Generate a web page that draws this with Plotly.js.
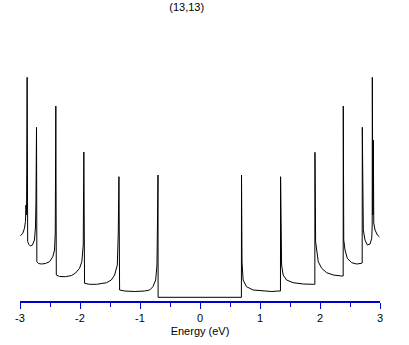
<!DOCTYPE html>
<html>
<head>
<meta charset="utf-8">
<script src="https://cdn.plot.ly/plotly-3.0.1.min.js"></script>
<style>html,body{margin:0;padding:0;background:#fff;}#chart{width:409px;height:345px;}</style>
</head>
<body>
<div id="chart"></div>
<script>
// Density of states of the (13,13) nanotube (arbitrary DOS units)
const energyEV = [
  -2.992, -2.954, -2.926, -2.909, -2.901, -2.897, -2.891, -2.881, -2.872, -2.851,
  -2.826, -2.792, -2.759, -2.742, -2.734, -2.725, -2.719, -2.692, -2.642, -2.575,
  -2.508, -2.453, -2.425, -2.412, -2.403, -2.395, -2.341, -2.241, -2.141, -2.074,
  -2.008, -1.969, -1.946, -1.936, -1.924, -1.841, -1.724, -1.624, -1.557, -1.478,
  -1.423, -1.378, -1.363, -1.351, -1.340, -1.256, -1.089, -0.922, -0.839, -0.784,
  -0.739, -0.717, -0.700, -0.698,
  0.690, 0.692, 0.700, 0.719, 0.775, 0.886, 1.048, 1.198, 1.298, 1.341,
  1.343, 1.360, 1.386, 1.443, 1.553, 1.720, 1.887, 1.914, 1.916, 1.927,
  1.971, 2.028, 2.111, 2.221, 2.361, 2.386, 2.388, 2.396, 2.417, 2.455,
  2.528, 2.612, 2.695, 2.703, 2.705, 2.712, 2.722, 2.750, 2.789, 2.834,
  2.862, 2.870, 2.872, 2.881, 2.889, 2.896, 2.917, 2.956, 2.989
];
const dosArb = [
  0.653, 0.677, 0.727, 0.793, 0.960, 1.610, 0.860, 2.237, 0.593, 0.565,
  0.550, 0.560, 0.610, 0.740, 0.980, 1.737, 0.393, 0.375, 0.370, 0.375,
  0.393, 0.443, 0.510, 0.680, 1.950, 0.260, 0.245, 0.243, 0.255, 0.280,
  0.327, 0.393, 0.560, 1.490, 0.177, 0.167, 0.167, 0.175, 0.183, 0.210,
  0.260, 0.360, 0.660, 1.243, 0.110, 0.100, 0.095, 0.100, 0.110, 0.143,
  0.210, 0.360, 1.260, 0.037,
  0.037, 1.260, 0.390, 0.210, 0.143, 0.110, 0.100, 0.095, 0.100, 0.100,
  1.243, 0.360, 0.260, 0.210, 0.183, 0.170, 0.167, 0.167, 1.487, 0.593,
  0.393, 0.327, 0.283, 0.260, 0.250, 0.250, 1.950, 0.610, 0.510, 0.427,
  0.383, 0.370, 0.377, 0.380, 1.737, 0.977, 0.710, 0.610, 0.560, 0.570,
  0.627, 0.750, 2.237, 0.860, 1.610, 0.780, 0.710, 0.660, 0.643
];
const majorTickVals = [-3, -2, -1, 0, 1, 2, 3];
const majorTickText = ["-3", "-2", "-1", "0", "1", "2", "3"];
const minorTickVals = [-2.5, -1.5, -0.5, 0.5, 1.5, 2.5];
const chartTitle = "(13,13)";
const xTitle = "Energy (eV)";

const axisBlue = "#0000cc";
const fontFam = "Liberation Sans, Arial, sans-serif";

const trace = {
  x: energyEV, y: dosArb, type: "scatter", mode: "lines",
  line: {color: "#000", width: 1}, hoverinfo: "skip", showlegend: false
};

const layout = {
  width: 409, height: 345,
  margin: {l: 20, r: 29, t: 41, b: 44},
  paper_bgcolor: "#fff", plot_bgcolor: "#fff",
  font: {family: fontFam, size: 11, color: "#000"},
  title: {text: chartTitle, x: 0.463, xref: "paper", xanchor: "center",
          y: 0.98, yref: "container", yanchor: "middle",
          font: {family: fontFam, size: 11, color: "#000"}},
  xaxis: {
    range: [-3, 3], showgrid: false, zeroline: false,
    showline: true, linecolor: axisBlue, linewidth: 1.5,
    tickmode: "array", tickvals: majorTickVals, ticktext: majorTickText,
    ticks: "outside", ticklen: 6, tickwidth: 1, tickcolor: axisBlue,
    tickfont: {family: fontFam, size: 11, color: "#000"},
    minor: {tickmode: "array", tickvals: minorTickVals, ticks: "outside", ticklen: 4, tickwidth: 1, tickcolor: axisBlue, showgrid: false},
    title: {text: xTitle, standoff: 4, font: {family: fontFam, size: 11, color: "#000"}}
  },
  yaxis: {range: [0, 2.6], visible: false, showgrid: false, zeroline: false}
};

Plotly.newPlot("chart", [trace], layout, {staticPlot: true, displayModeBar: false});
</script>
</body>
</html>
